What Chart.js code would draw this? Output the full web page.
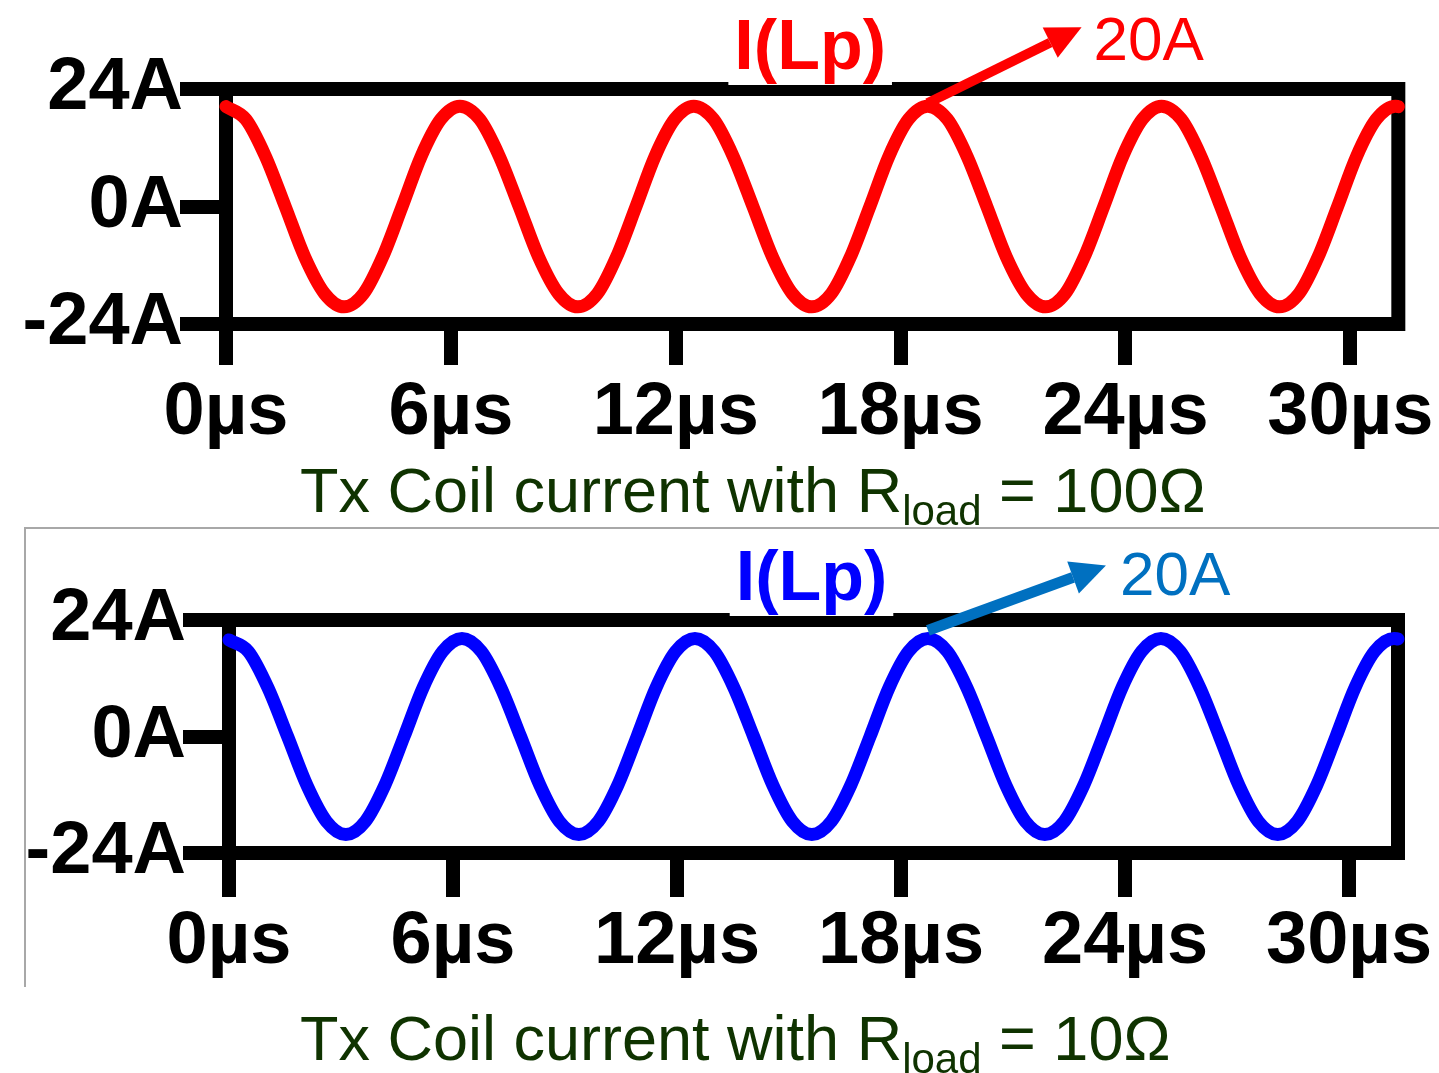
<!DOCTYPE html>
<html>
<head>
<meta charset="utf-8">
<script src="https://cdn.jsdelivr.net/npm/chart.js@4.4.1/dist/chart.umd.min.js"></script>
<style>
  body { margin: 0; background: #fff; width: 1439px; height: 1073px; overflow: hidden; position: relative; font-family: "Liberation Sans", Arial, sans-serif; }
  canvas { position: absolute; left: 0; }
  #c1 { top: 0; }
  #c2 { top: 527px; }
  .inset { position: absolute; left: 24px; top: 527px; width: 1415px; height: 458px; border-top: 2px solid #a8a8a8; border-left: 2px solid #a8a8a8; }
  .caption { position: absolute; left: 300px; font-size: 63px; line-height: 64px; color: #0f3300; white-space: nowrap; }
  .caption span { font-size: 42px; position: relative; top: 13px; }
</style>
</head>
<body>
<div class="inset"></div>
<canvas id="c1" width="1439" height="527"></canvas>
<canvas id="c2" width="1439" height="546"></canvas>
<div class="caption" style="top:458px">Tx Coil current with R<span>load</span> = 100Ω</div>
<div class="caption" style="top:1006px">Tx Coil current with R<span>load</span> = 10Ω</div>
<script>
// tick labels
const xTicks = [0, 6, 12, 18, 24, 30];
const yTicks = [-24, 0, 24];

// Rload = 100 ohm, time in us, current in A
const time100 = [0, 0.53, 1.05, 1.58, 2.10, 2.63, 3.15, 3.67, 4.18, 4.70, 5.21, 5.73,
  6.24, 6.77, 7.29, 7.82, 8.34, 8.87, 9.39, 9.91, 10.42, 10.94, 11.45, 11.97,
  12.48, 13.01, 13.53, 14.06, 14.58, 15.11, 15.63, 16.15, 16.66, 17.18, 17.69, 18.21,
  18.72, 19.25, 19.77, 20.30, 20.82, 21.35, 21.87, 22.39, 22.90, 23.42, 23.93, 24.45,
  24.96, 25.49, 26.01, 26.54, 27.06, 27.59, 28.11, 28.63, 29.14, 29.66, 30.17, 30.69,
  31.20, 31.28];
const current100 = [20.4, 17.8, 10.3, 0, -10.3, -17.8, -20.5, -17.8, -10.3, 0, 10.3, 17.8,
  20.5, 17.8, 10.3, 0, -10.3, -17.8, -20.5, -17.8, -10.3, 0, 10.3, 17.8,
  20.5, 17.8, 10.3, 0, -10.3, -17.8, -20.5, -17.8, -10.3, 0, 10.3, 17.8,
  20.5, 17.8, 10.3, 0, -10.3, -17.8, -20.5, -17.8, -10.3, 0, 10.3, 17.8,
  20.5, 17.8, 10.3, 0, -10.3, -17.8, -20.5, -17.8, -10.3, 0, 10.3, 17.8,
  20.5, 20.4];

// Rload = 10 ohm
const time10 = [0, 0.52, 1.04, 1.57, 2.09, 2.61, 3.13, 3.65, 4.17, 4.69, 5.20, 5.72,
  6.24, 6.76, 7.28, 7.81, 8.33, 8.85, 9.37, 9.89, 10.41, 10.93, 11.44, 11.96,
  12.48, 13.00, 13.52, 14.05, 14.57, 15.09, 15.61, 16.13, 16.65, 17.17, 17.68, 18.20,
  18.72, 19.24, 19.76, 20.29, 20.81, 21.33, 21.85, 22.37, 22.89, 23.41, 23.92, 24.44,
  24.96, 25.48, 26.00, 26.53, 27.05, 27.57, 28.09, 28.61, 29.13, 29.65, 30.16, 30.68,
  31.20, 31.31];
const current10 = [19.9, 17.5, 10.1, 0, -10.1, -17.5, -20.2, -17.5, -10.1, 0, 10.1, 17.5,
  20.2, 17.5, 10.1, 0, -10.1, -17.5, -20.2, -17.5, -10.1, 0, 10.1, 17.5,
  20.2, 17.5, 10.1, 0, -10.1, -17.5, -20.2, -17.5, -10.1, 0, 10.1, 17.5,
  20.2, 17.5, 10.1, 0, -10.1, -17.5, -20.2, -17.5, -10.1, 0, 10.1, 17.5,
  20.2, 17.5, 10.1, 0, -10.1, -17.5, -20.2, -17.5, -10.1, 0, 10.1, 17.5,
  20.2, 20.1];

const peakTime100 = 18.72, peakValue100 = 20.5;
const peakTime10 = 18.72, peakValue10 = 20.2;

const FONT = '"Liberation Sans", Arial, sans-serif';

// thick black box round the plot area
const framePlugin = {
  id: "frame",
  beforeDatasetsDraw(chart) {
    const a = chart.chartArea, ctx = chart.ctx;
    ctx.save();
    ctx.strokeStyle = "#000";
    ctx.lineWidth = 14;
    ctx.strokeRect(a.left, a.top, a.right - a.left, a.bottom - a.top);
    ctx.restore();
  },
};

// I(Lp) title and the "20A" arrow
const notePlugin = {
  id: "peakNote",
  afterDraw(chart, args, o) {
    const { ctx, chartArea: a } = chart;
    const x = chart.scales.x, y = chart.scales.y;
    ctx.save();
    ctx.font = "bold 70px " + FONT;
    const cx = (a.left + a.right) / 2 + o.titleShift;
    const w = ctx.measureText(o.title).width;
    ctx.fillStyle = "#fff";
    ctx.fillRect(cx - w / 2 - 6, a.top - 8, w + 12, 4);
    ctx.fillStyle = o.color;
    ctx.textAlign = "center";
    ctx.fillText(o.title, cx, a.top - 20);

    const px = x.getPixelForValue(o.peakAt);
    const py = y.getPixelForValue(o.peakVal) + o.tailDy;
    const tx = px + o.dx, ty = py + o.dy;
    const ang = Math.atan2(ty - py, tx - px);
    const head = 35, half = 17;
    const bx = tx - head * Math.cos(ang), by = ty - head * Math.sin(ang);
    ctx.strokeStyle = o.arrowColor;
    ctx.fillStyle = o.arrowColor;
    ctx.lineWidth = o.shaft;
    ctx.beginPath();
    ctx.moveTo(px, py);
    ctx.lineTo(bx, by);
    ctx.stroke();
    ctx.beginPath();
    ctx.moveTo(tx, ty);
    ctx.lineTo(bx + half * Math.sin(ang), by - half * Math.cos(ang));
    ctx.lineTo(bx - half * Math.sin(ang), by + half * Math.cos(ang));
    ctx.closePath();
    ctx.fill();

    ctx.font = "62px " + FONT;
    ctx.textAlign = "left";
    ctx.fillStyle = o.arrowColor;
    ctx.fillText(o.label, tx + o.labelDx, ty + o.labelDy);
    ctx.restore();
  },
};

function makeChart(id, times, values, lay, note) {
  return new Chart(document.getElementById(id), {
    type: "line",
    data: {
      datasets: [
        {
          data: times.map((t, i) => ({ x: t, y: values[i] })),
          borderColor: lay.color,
          borderWidth: 13,
          borderCapStyle: "round",
          borderJoinStyle: "round",
          pointRadius: 0,
          cubicInterpolationMode: "monotone",
          fill: false,
          clip: 8,
        },
      ],
    },
    options: {
      responsive: false,
      animation: false,
      events: [],
      layout: { padding: { left: 0, right: lay.padRight, top: lay.padTop, bottom: 0 } },
      plugins: {
        legend: { display: false },
        tooltip: { enabled: false },
        peakNote: note,
      },
      scales: {
        x: {
          type: "linear",
          min: 0,
          max: lay.xMax,
          afterBuildTicks: (s) => { s.ticks = xTicks.map((v) => ({ value: v })); },
          afterFit: (s) => { s.height = lay.xHeight; },
          border: { display: true, width: 14, color: "#000" },
          grid: { drawOnChartArea: false, color: "#000", lineWidth: 14, tickLength: lay.xTick },
          ticks: {
            color: "#000",
            font: { family: FONT, size: 74, weight: "bold" },
            padding: lay.xPad,
            maxRotation: 0,
            autoSkip: false,
            callback: (v) => v + "µs",
          },
        },
        y: {
          min: -24,
          max: 24,
          afterBuildTicks: (s) => { s.ticks = yTicks.map((v) => ({ value: v })); },
          afterFit: (s) => { s.width = lay.yWidth; },
          border: { display: true, width: 14, color: "#000" },
          grid: { drawOnChartArea: false, color: "#000", lineWidth: 14, tickLength: 46 },
          ticks: {
            color: "#000",
            font: { family: FONT, size: 74, weight: "bold" },
            padding: -3,
            callback: (v) => v + "A",
          },
        },
      },
    },
    plugins: [framePlugin, notePlugin],
  });
}

makeChart("c1", time100, current100,
  { color: "#ff0000", yWidth: 226, padRight: 39, padTop: 89, xHeight: 203, xMax: 31.28, xTick: 41, xPad: 4 },
  { title: "I(Lp)", color: "#ff0000", arrowColor: "#ff0000", titleShift: -2,
    peakAt: peakTime100, peakVal: peakValue100, tailDy: -3, dx: 154, dy: -76,
    shaft: 10, label: "20A", labelDx: 12, labelDy: 33 });

makeChart("c2", time10, current10,
  { color: "#0000ff", yWidth: 229, padRight: 41, padTop: 93, xHeight: 220, xMax: 31.31, xTick: 44, xPad: 1 },
  { title: "I(Lp)", color: "#0000ff", arrowColor: "#0070c0", titleShift: -2,
    peakAt: peakTime10, peakVal: peakValue10, tailDy: -8, dx: 178, dy: -65,
    shaft: 11, label: "20A", labelDx: 14, labelDy: 30 });
</script>
</body>
</html>
